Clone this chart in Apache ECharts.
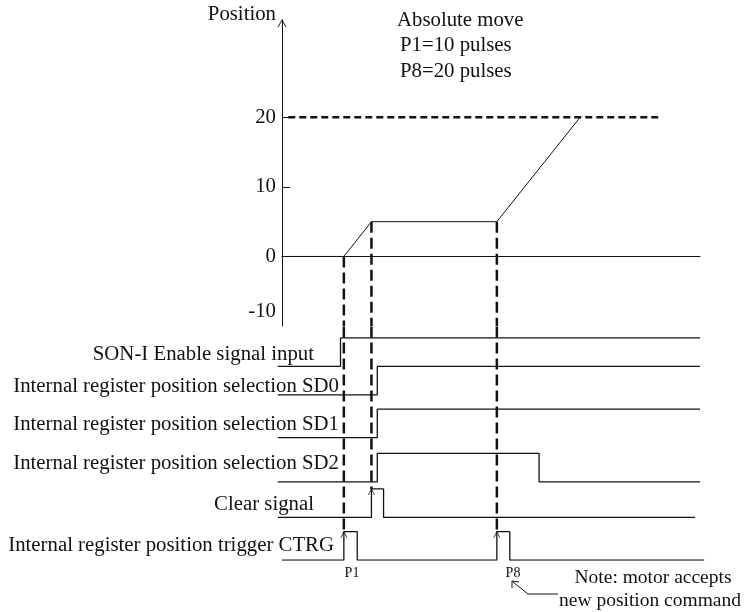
<!DOCTYPE html>
<html>
<head>
<meta charset="utf-8">
<script src="https://cdn.jsdelivr.net/npm/echarts@6/dist/echarts.min.js"></script>
<style>
html, body { margin: 0; padding: 0; background: #fff; }
#chartDom { width: 749px; height: 612px; }
</style>
</head>
<body>
<div id="chartDom"></div>
<script>
// 位置曲线 (时间单位, 脉冲)
const positionCurve = [[0, 0], [14.8, 0], [21.4, 5], [51.4, 5], [71.3, 20]];
const targetLine = [[1.5, 20], [90, 20]];
const yLabels = [-10, 0, 10, 20];
const yTickMarks = [10, 20];

// 信号名称, 基线, 阶跃点 [t, 0/1]
const signalNames = [
  'SON-I Enable signal input',
  'Internal register position selection SD0',
  'Internal register position selection SD1',
  'Internal register position selection SD2',
  'Clear signal',
  'Internal register position trigger CTRG'
];
const signalBase = [6.8, 5.8, 4.3, 2.75, 1.5, 0];
const sonSteps = [[-1, 0], [14, 0], [14, 1], [100, 1]];
const sd0Steps = [[-1, 0], [22.8, 0], [22.8, 1], [100, 1]];
const sd1Steps = [[-1, 0], [22.8, 0], [22.8, 1], [100, 1]];
const sd2Steps = [[-1, 0], [22.8, 0], [22.8, 1], [61.5, 1], [61.5, 0], [100, 0]];
const clearSteps = [[-1, 0], [21.4, 0], [21.4, 1], [24.3, 1], [24.3, 0], [98.8, 0]];
const ctrgSteps = [[0, 0], [14.8, 0], [14.8, 1], [18, 1], [18, 0], [51.4, 0], [51.4, 1], [54.5, 1], [54.5, 0], [101, 0]];
const allSteps = [sonSteps, sd0Steps, sd1Steps, sd2Steps, clearSteps, ctrgSteps];

// 虚线: 时刻, 位置值, 到达的信号行
const markTimes = [14.8, 21.4, 51.4];
const markPos = [0, 5, 5];
const markRow = [5, 4, 5];
const pointLabels = ['P1', 'P8'];

const FONT = '"Liberation Serif", "Times New Roman", serif';
const BLACK = '#111';

let chart = echarts.init(document.getElementById('chartDom'));

const caret = 'path://M0,8 L4,0 L8,8';
const hDash = { type: [7, 4], width: 2.5, color: BLACK };
const vDash = { type: [11, 5], width: 2.5, color: BLACK };

let series = [];
// 目标位置 20 的虚线
series.push({
  type: 'line', xAxisIndex: 0, yAxisIndex: 0, symbol: 'none', silent: true,
  lineStyle: hDash, data: targetLine
});
// 位置曲线
series.push({
  type: 'line', xAxisIndex: 0, yAxisIndex: 0, symbol: 'none', silent: true,
  lineStyle: { color: BLACK, width: 1 }, data: positionCurve
});
// 竖直虚线 (上下两段)
markTimes.forEach((t, i) => {
  series.push({
    type: 'line', xAxisIndex: 0, yAxisIndex: 0, symbol: 'none', silent: true,
    lineStyle: vDash, data: [[t, markPos[i]], [t, -10]]
  });
  series.push({
    type: 'line', xAxisIndex: 1, yAxisIndex: 1, symbol: 'none', silent: true,
    lineStyle: vDash, data: [[t, 8.2], [t, signalBase[markRow[i]] + 1]]
  });
});
// 数字信号
allSteps.forEach((steps, i) => {
  series.push({
    type: 'line', xAxisIndex: 1, yAxisIndex: 1, symbol: 'none', silent: true,
    lineStyle: { color: BLACK, width: 1.3 },
    data: steps.map(p => [p[0], signalBase[i] + p[1]])
  });
});
// 上升沿箭头
series.push({
  type: 'scatter', xAxisIndex: 1, yAxisIndex: 1, silent: true,
  symbol: caret, symbolSize: [6, 6], symbolOffset: [0, '50%'],
  itemStyle: { color: 'transparent', borderColor: BLACK, borderWidth: 1 },
  data: markTimes.map((t, i) => [t, signalBase[markRow[i]] + 1])
});
// 坐标轴箭头
series.push({
  type: 'scatter', xAxisIndex: 0, yAxisIndex: 0, silent: true,
  symbol: caret, symbolSize: [8, 7], symbolOffset: [0, '50%'],
  itemStyle: { color: 'transparent', borderColor: BLACK, borderWidth: 1 },
  data: [[0, 34]]
});

// 文字
let texts = [
  { text: 'Position', x: 276, y: 15, align: 'right', size: 20.8 },
  { text: 'Absolute move', x: 397, y: 21, align: 'left', size: 20.8 },
  { text: 'P1=10 pulses', x: 400, y: 46, align: 'left', size: 20.8 },
  { text: 'P8=20 pulses', x: 400, y: 72, align: 'left', size: 20.8 },
  { text: signalNames[0], x: 314, y: 355, align: 'right', size: 20.8 },
  { text: signalNames[1], x: 339, y: 387, align: 'right', size: 20.8 },
  { text: signalNames[2], x: 339, y: 425, align: 'right', size: 20.8 },
  { text: signalNames[3], x: 339, y: 464, align: 'right', size: 20.8 },
  { text: signalNames[4], x: 314, y: 505, align: 'right', size: 20.8 },
  { text: signalNames[5], x: 334, y: 546, align: 'right', size: 20.8 },
  { text: 'Note: motor accepts', x: 653, y: 578, align: 'center', size: 19.5 },
  { text: 'new position command', x: 650, y: 601, align: 'center', size: 19.5 }
];
let graphic = texts.map(o => ({
  type: 'text', silent: true,
  style: {
    text: o.text, x: o.x, y: o.y, align: o.align, verticalAlign: 'middle',
    fontSize: o.size, fontFamily: FONT, fill: BLACK
  }
}));
graphic.push({
  type: 'text', silent: true,
  style: { text: pointLabels[0], x: 352, y: 573, align: 'center', verticalAlign: 'middle', fontSize: 14, fontFamily: FONT, fill: BLACK }
});
graphic.push({
  type: 'text', silent: true,
  style: { text: pointLabels[1], x: 513, y: 573, align: 'center', verticalAlign: 'middle', fontSize: 14, fontFamily: FONT, fill: BLACK }
});
graphic.push({
  type: 'polyline', silent: true,
  shape: { points: [[558, 594], [528, 594], [513, 582]] },
  style: { stroke: BLACK, lineWidth: 1, fill: null }
});
graphic.push({
  type: 'polyline', silent: true,
  shape: { points: [[512, 588], [512, 581], [519, 582]] },
  style: { stroke: BLACK, lineWidth: 1, fill: null }
});

chart.setOption({
  animation: false,
  backgroundColor: '#fff',
  grid: [
    { left: 282, top: 20, width: 418, height: 306, outerBoundsMode: 'none', containLabel: false },
    { left: 277.8, top: 326.5, width: 426.4, height: 233.7, outerBoundsMode: 'none', containLabel: false }
  ],
  xAxis: [
    {
      gridIndex: 0, type: 'value', min: 0, max: 100,
      axisLine: { show: true, onZero: true, lineStyle: { color: BLACK, width: 1 } },
      axisTick: { show: false }, axisLabel: { show: false }, splitLine: { show: false }
    },
    {
      gridIndex: 1, type: 'value', min: -1, max: 101, show: false,
      splitLine: { show: false }
    }
  ],
  yAxis: [
    {
      gridIndex: 0, type: 'value', min: -10, max: 34, interval: 10,
      axisLine: { show: true, onZero: false, lineStyle: { color: BLACK, width: 1 } },
      axisTick: { show: true, inside: true, length: 8, customValues: yTickMarks, lineStyle: { color: BLACK } },
      axisLabel: {
        show: true, margin: 6, color: BLACK, fontSize: 20.8, fontFamily: FONT,
        customValues: yLabels,
        formatter: v => (v > 20 ? '' : (v < 0 ? '{low|' + v + '}' : String(v))),
        rich: { low: { fontSize: 20.8, fontFamily: FONT, color: BLACK, padding: [0, 0, 28, 0] } }
      },
      splitLine: { show: false }
    },
    {
      gridIndex: 1, type: 'value', min: 0, max: 8.2, show: false,
      splitLine: { show: false }
    }
  ],
  graphic: graphic,
  series: series
});
</script>
</body>
</html>
